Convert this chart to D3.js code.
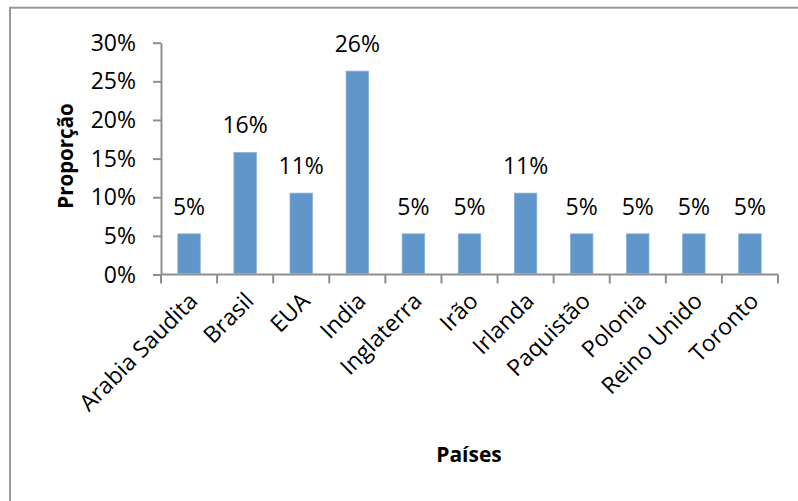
<!DOCTYPE html>
<html>
<head>
<meta charset="utf-8">
<script src="https://cdn.jsdelivr.net/npm/d3@7"></script>
<style>
  html, body { margin: 0; padding: 0; background: #fff; }
  svg { display: block; }
  text { font-family: "Open Sans", "Noto Sans", sans-serif; fill: #000; }
</style>
</head>
<body>
<svg id="chart" width="798" height="501"></svg>
<script>
// Share of respondents by country
const countries = ["Arabia Saudita", "Brasil", "EUA", "India", "Inglaterra", "Irão",
                   "Irlanda", "Paquistão", "Polonia", "Reino Unido", "Toronto"];
const shares = [0.0526, 0.1579, 0.1053, 0.2632, 0.0526, 0.0526,
                0.1053, 0.0526, 0.0526, 0.0526, 0.0526];
const yTicks = [0, 0.05, 0.10, 0.15, 0.20, 0.25, 0.30];
const yTickLabels = ["0%", "5%", "10%", "15%", "20%", "25%", "30%"];
const yTitle = "Proporção";
const xTitle = "Países";

const svg = d3.select("#chart");
const plot = { left: 161, right: 778, top: 42.7, bottom: 274.5 };
const axisColor = "#8e8e8e";

// chart-area frame
svg.append("rect")
  .attr("x", 10).attr("y", 7.7)
  .attr("width", 900).attr("height", 700)
  .attr("fill", "none").attr("stroke", "#9a9a9a").attr("stroke-width", 2);

const x = d3.scaleBand()
  .domain(countries)
  .range([plot.left, plot.right])
  .paddingInner(0.6)
  .paddingOuter(0.3);

const y = d3.scaleLinear()
  .domain([0, 0.30])
  .range([plot.bottom, plot.top]);

// y axis
const yAxis = svg.append("g")
  .attr("transform", `translate(${plot.left},0)`)
  .call(d3.axisLeft(y)
    .tickValues(yTicks)
    .tickFormat((d, i) => yTickLabels[i])
    .tickSize(8)
    .tickSizeOuter(0)
    .tickPadding(17));
yAxis.select(".domain").attr("stroke", axisColor).attr("stroke-width", 2);
yAxis.selectAll(".tick line").attr("stroke", axisColor).attr("stroke-width", 2);
yAxis.selectAll(".tick text")
  .attr("font-size", 23)
  .attr("font-family", "Open Sans")
  .attr("fill", "#000")
  .attr("dy", "0.33em");

// x axis line and category boundary ticks
const step = x.step();
const firstEdge = x(countries[0]) - step * x.paddingInner() / 2;
const xAxis = svg.append("g");
xAxis.append("line")
  .attr("x1", plot.left).attr("x2", plot.right)
  .attr("y1", y(0)).attr("y2", y(0))
  .attr("stroke", axisColor).attr("stroke-width", 2);
xAxis.selectAll("line.tick")
  .data(d3.range(countries.length + 1))
  .join("line")
  .attr("class", "tick")
  .attr("x1", i => firstEdge + i * step)
  .attr("x2", i => firstEdge + i * step)
  .attr("y1", y(0)).attr("y2", y(0) + 9)
  .attr("stroke", axisColor).attr("stroke-width", 2);

// category labels, slanted
svg.append("g").selectAll("text")
  .data(countries)
  .join("text")
  .attr("transform", d => `translate(${x(d) + x.bandwidth() / 2 + 10},${y(0) + 28}) rotate(-45)`)
  .attr("text-anchor", "end")
  .attr("font-size", 23)
  .text(d => d);

// bars
svg.append("g").selectAll("rect")
  .data(shares)
  .join("rect")
  .attr("x", (d, i) => x(countries[i]))
  .attr("width", x.bandwidth())
  .attr("y", d => y(d))
  .attr("height", d => y(0) - y(d) - 1)
  .attr("fill", "#6096ca")
  .attr("stroke", "#86afd8")
  .attr("stroke-width", 0.8);

// value labels
const pct = d3.format(".0%");
svg.append("g").selectAll("text")
  .data(shares)
  .join("text")
  .attr("x", (d, i) => x(countries[i]) + x.bandwidth() / 2)
  .attr("y", d => y(d) - 19)
  .attr("text-anchor", "middle")
  .attr("font-size", 23)
  .text(d => pct(d));

// axis titles
svg.append("text")
  .attr("transform", "translate(73,156) rotate(-90)")
  .attr("text-anchor", "middle")
  .attr("font-size", 20.5)
  .attr("font-weight", "bold")
  .text(yTitle);

svg.append("text")
  .attr("x", 469).attr("y", 461.7)
  .attr("text-anchor", "middle")
  .attr("font-size", 21)
  .attr("font-weight", "bold")
  .text(xTitle);
</script>
</body>
</html>
